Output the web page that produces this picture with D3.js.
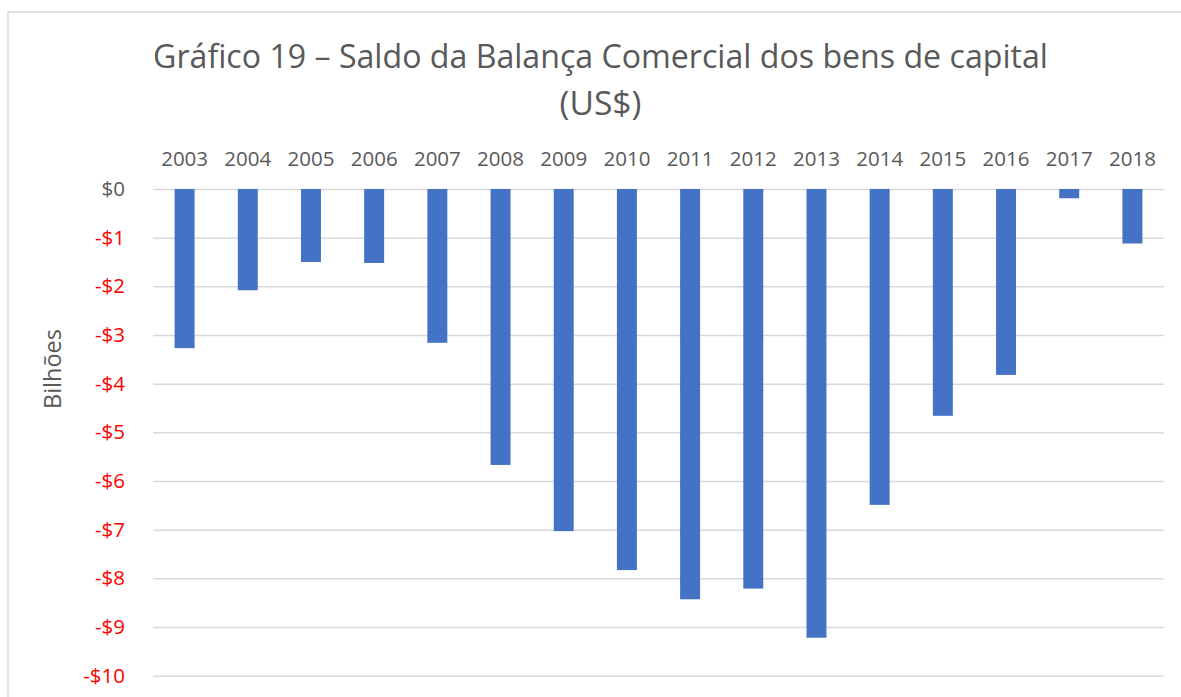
<!DOCTYPE html>
<html>
<head>
<meta charset="utf-8">
<script src="https://cdn.jsdelivr.net/npm/d3@7"></script>
<style>
  body { margin: 0; background: #fff; overflow: hidden; }
  svg { display: block; }
</style>
</head>
<body>
<div id="chart"></div>
<script>
//////////////////////////////////////////////////////////////////////////////
// data

var years = ["2003", "2004", "2005", "2006", "2007", "2008", "2009", "2010",
             "2011", "2012", "2013", "2014", "2015", "2016", "2017", "2018"];
var saldo = [-3.27, -2.08, -1.50, -1.52, -3.16, -5.67, -7.03, -7.83,
             -8.43, -8.21, -9.22, -6.49, -4.66, -3.82, -0.19, -1.12];
var yTicks = [0, -1, -2, -3, -4, -5, -6, -7, -8, -9, -10];
var titleLines = ["Gráfico 19 – Saldo da Balança Comercial dos bens de capital", "(US$)"];
var yLabel = "Bilhões";

//////////////////////////////////////////////////////////////////////////////
// setup

var width = 1181, height = 697;
var plotLeft = 153, plotRight = 1164, plotTop = 189, plotBottom = 675.7;
var font = "'Open Sans', 'Noto Sans', sans-serif";
var grey = "#595959";

var svg = d3.select("#chart").append("svg")
    .attr("width", width)
    .attr("height", height);

// chart area border: only top and left edges are inside the page
svg.append("path")
    .attr("d", "M8," + height + " L8,12 L" + width + ",12")
    .attr("fill", "none")
    .attr("stroke", "#d9d9d9").attr("stroke-width", 1.5);

var xScale = d3.scaleBand().domain(years).range([plotLeft, plotRight]).paddingInner(0.684).paddingOuter(0.342);
var yScale = d3.scaleLinear().domain([0, -10]).range([plotTop, plotBottom]);

// helper: shrink/grow font size until the text is about the given width
function fitText(sel, target) {
    var size = +sel.attr("font-size");
    var len = sel.node().getComputedTextLength();
    sel.attr("font-size", (size * target / len).toFixed(2));
}

//////////////////////////////////////////////////////////////////////////////
// title

svg.append("g").selectAll("text")
    .data(titleLines)
    .enter()
    .append("text")
    .attr("x", 600.5)
    .attr("y", function(d, i) { return 68 + i * 47; })
    .attr("text-anchor", "middle")
    .attr("font-family", font)
    .attr("font-size", 30)
    .attr("fill", grey)
    .text(function(d) { return d; })
    .each(function(d, i) {
        fitText(d3.select(this), i == 0 ? 895 : 82);
    });

//////////////////////////////////////////////////////////////////////////////
// grid + y axis

var yAxis = svg.append("g")
    .attr("transform", "translate(" + plotLeft + ",0)")
    .call(d3.axisLeft(yScale)
        .tickValues(yTicks)
        .tickSize(-(plotRight - plotLeft))
        .tickPadding(28)
        .tickFormat(function(d) { return d < 0 ? "-$" + Math.abs(d) : "$" + d; }));

yAxis.select(".domain").remove();
yAxis.selectAll(".tick line")
    .attr("stroke", "#d9d9d9").attr("stroke-width", 1.5);
yAxis.selectAll(".tick text")
    .attr("font-family", font)
    .attr("font-size", 20.5)
    .attr("fill", function(d) { return d < 0 ? "#ff0000" : grey; });

svg.append("text")
    .attr("transform", "translate(61,369) rotate(-90)")
    .attr("text-anchor", "middle")
    .attr("font-family", font)
    .attr("font-size", 20)
    .attr("fill", grey)
    .text(yLabel)
    .call(fitText, 80);

//////////////////////////////////////////////////////////////////////////////
// x axis on top

var xAxis = svg.append("g")
    .attr("transform", "translate(0," + (plotTop - 23) + ")")
    .call(d3.axisTop(xScale).tickSize(0).tickPadding(0));

xAxis.select(".domain").remove();
xAxis.selectAll(".tick text")
    .attr("font-family", font)
    .attr("font-size", 20.5)
    .attr("fill", grey);

//////////////////////////////////////////////////////////////////////////////
// bars

svg.append("g").selectAll("rect")
    .data(saldo)
    .enter()
    .append("rect")
    .attr("x", function(d, i) { return xScale(years[i]); })
    .attr("y", yScale(0))
    .attr("width", xScale.bandwidth())
    .attr("height", function(d) { return yScale(d) - yScale(0); })
    .attr("fill", "#4472c4");
</script>
</body>
</html>
